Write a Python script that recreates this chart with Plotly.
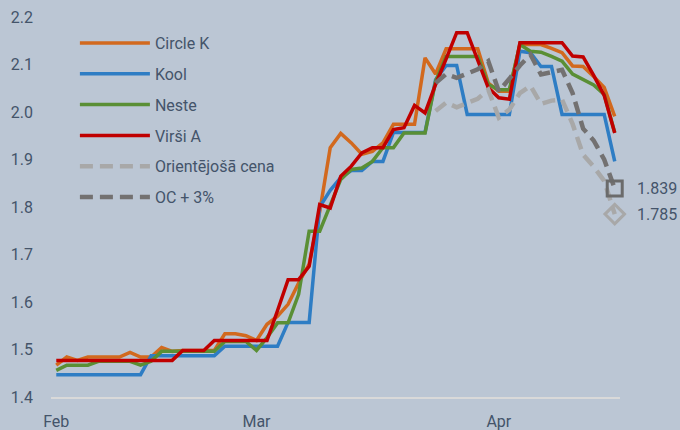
import plotly.graph_objects as go

# observation index (uniform spacing) and month tick labels
points = list(range(54))
month_ticks = [0, 19, 42]
month_labels = ["Feb", "Mar", "Apr"]
y_ticks = [1.4, 1.5, 1.6, 1.7, 1.8, 1.9, 2.0, 2.1, 2.2]

circle_k = [1.467, 1.484, 1.477, 1.484, 1.484, 1.484, 1.484, 1.494, 1.484, 1.484,
            1.504, 1.496, 1.498, 1.498, 1.498, 1.498, 1.533, 1.533, 1.529, 1.519,
            1.553, 1.570, 1.595, 1.640, 1.680, 1.790, 1.925, 1.955, 1.935, 1.911,
            1.917, 1.935, 1.974, 1.974, 1.974, 2.114, 2.080, 2.133, 2.133, 2.133,
            2.133, 2.061, 2.044, 2.044, 2.142, 2.142, 2.142, 2.134, 2.125, 2.097,
            2.096, 2.075, 2.052, 1.991]

kool = [1.447, 1.447, 1.447, 1.447, 1.447, 1.447, 1.447, 1.447, 1.447, 1.487,
        1.487, 1.487, 1.487, 1.487, 1.487, 1.487, 1.507, 1.507, 1.507, 1.507,
        1.507, 1.507, 1.557, 1.557, 1.557, 1.800, 1.835, 1.862, 1.877, 1.877,
        1.896, 1.896, 1.957, 1.957, 1.957, 1.957, 2.068, 2.098, 2.098, 1.995,
        1.995, 1.995, 1.995, 1.995, 2.128, 2.125, 2.096, 2.096, 1.995, 1.995,
        1.995, 1.995, 1.995, 1.896]

neste = [1.456, 1.467, 1.467, 1.467, 1.475, 1.475, 1.475, 1.475, 1.467, 1.475,
         1.496, 1.496, 1.496, 1.496, 1.496, 1.496, 1.517, 1.517, 1.517, 1.498,
         1.525, 1.556, 1.556, 1.616, 1.749, 1.749, 1.802, 1.858, 1.879, 1.882,
         1.896, 1.925, 1.925, 1.956, 1.956, 1.956, 2.065, 2.117, 2.117, 2.117,
         2.117, 2.058, 2.047, 2.047, 2.142, 2.128, 2.126, 2.117, 2.107, 2.080,
         2.068, 2.057, 2.037, 1.957]

virsi = [1.477, 1.477, 1.477, 1.477, 1.477, 1.477, 1.477, 1.477, 1.477, 1.477,
         1.477, 1.477, 1.498, 1.498, 1.498, 1.519, 1.519, 1.519, 1.519, 1.519,
         1.519, 1.582, 1.647, 1.647, 1.675, 1.805, 1.798, 1.865, 1.886, 1.914,
         1.925, 1.925, 1.963, 1.967, 2.014, 1.998, 2.058, 2.112, 2.167, 2.167,
         2.108, 2.051, 2.030, 2.027, 2.146, 2.146, 2.146, 2.146, 2.146, 2.118,
         2.116, 2.077, 2.035, 1.956]

orient_cena = [None] * 36 + [2.002, 2.020, 2.010, 2.020, 2.028, 2.047, 1.988, 2.005,
                             2.040, 2.055, 2.017, 2.024, 2.026, 1.975, 1.910, 1.885,
                             1.855, 1.785]

oc_plus3 = [None] * 36 + [2.061, 2.080, 2.072, 2.080, 2.090, 2.107, 2.044, 2.070,
                          2.098, 2.121, 2.079, 2.084, 2.089, 2.040, 1.965, 1.940,
                          1.900, 1.839]

TEXT = "#44546A"
BG = "#BBC6D4"
FONT = "Roboto"

series = [
    ("Circle K", circle_k, "#D2691E", "solid", 3.5),
    ("Kool", kool, "#2E7DC4", "solid", 3.5),
    ("Neste", neste, "#5A8F35", "solid", 3.5),
    ("Virši A", virsi, "#C00000", "solid", 3.5),
    ("Orientējošā cena", orient_cena, "#A8A8A8", "13px,7px", 4.5),
    ("OC + 3%", oc_plus3, "#737171", "13px,7px", 4.5),
]

fig = go.Figure()
for name, vals, color, dash, w in series:
    fig.add_trace(go.Scatter(
        x=points, y=vals, mode="lines", name=name, legendgroup=name,
        line=dict(color=color, width=w, dash=dash), connectgaps=False,
    ))

# end markers
fig.add_trace(go.Scatter(
    x=[points[-1]], y=[oc_plus3[-1]], mode="markers", showlegend=False, cliponaxis=False,
    marker=dict(symbol="square-open", size=15, color="#6B6B6B", line=dict(width=3, color="#6B6B6B")),
))
fig.add_trace(go.Scatter(
    x=[points[-1]], y=[orient_cena[-1]], mode="markers", showlegend=False, cliponaxis=False,
    marker=dict(symbol="diamond-open", size=15, color="#A8A8A8", line=dict(width=3, color="#A8A8A8")),
))

for val in (oc_plus3[-1], orient_cena[-1]):
    fig.add_annotation(x=points[-1], y=val, text=f"{val:.3f}", showarrow=False,
                       xanchor="left", yanchor="middle", xshift=20,
                       font=dict(family=FONT, size=16, color=TEXT))

fig.update_layout(
    width=680, height=430,
    margin=dict(l=51, r=60, t=17, b=33, autoexpand=False),
    paper_bgcolor=BG, plot_bgcolor=BG,
    font=dict(family=FONT, size=16, color=TEXT),
    showlegend=True,
    legend=dict(x=0.042, y=0.976, xanchor="left", yanchor="top",
                bgcolor="rgba(0,0,0,0)", font=dict(family=FONT, size=16, color=TEXT),
                tracegroupgap=7, itemwidth=70),
    xaxis=dict(range=[-0.5, 53.5], tickmode="array", tickvals=month_ticks, ticktext=month_labels,
               showgrid=False, zeroline=False, showline=True, linecolor="#D9D9D9", linewidth=2,
               ticks="", ticklabelstandoff=9, automargin=False,
               tickfont=dict(family=FONT, size=16, color=TEXT)),
    yaxis=dict(range=[1.3999, 2.2001], tickmode="array", tickvals=y_ticks,
               ticktext=[f"{v:.1f}" for v in y_ticks],
               showgrid=False, zeroline=False, showline=False, ticks="", automargin=False,
               ticklabelstandoff=17, tickfont=dict(family=FONT, size=16, color=TEXT)),
)

fig.write_html("out.html", config={"displayModeBar": False},
               post_script="document.body.style.margin='0';document.body.style.background='#BBC6D4';")
